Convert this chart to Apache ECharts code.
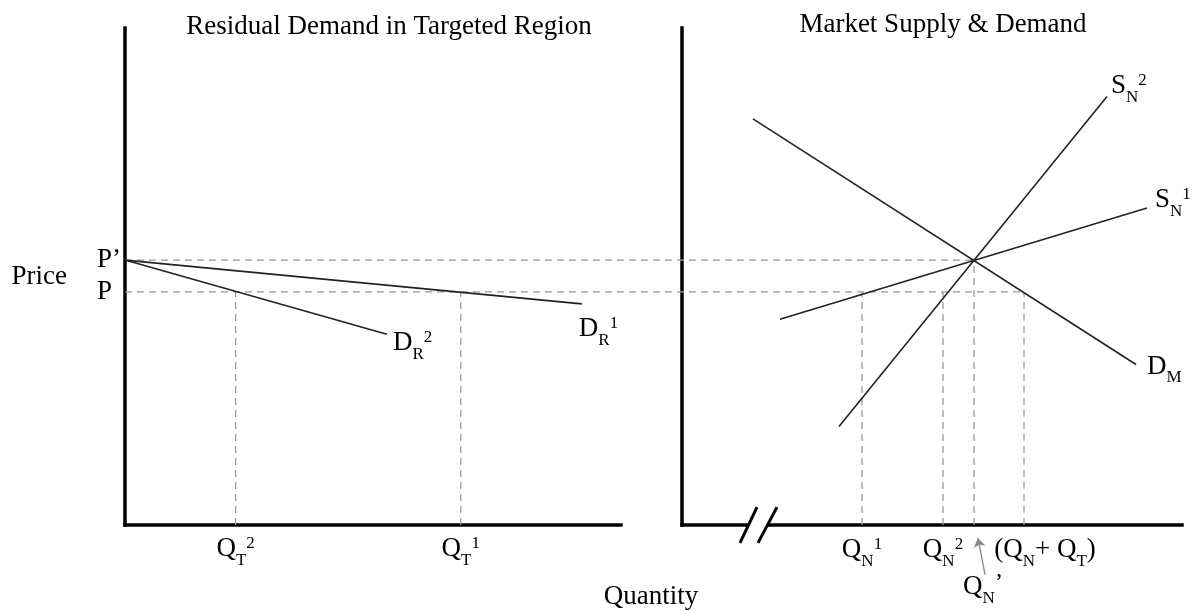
<!DOCTYPE html>
<html><head><meta charset="utf-8">
<script src="https://cdn.jsdelivr.net/npm/echarts@6/dist/echarts.min.js"></script>
<style>html,body{margin:0;padding:0;background:#fff}#chart{width:1192px;height:611px}</style>
</head><body><div id="chart"></div>
<script>
// ---- data (diagram units: quantity 0..100, price 0..100) ----
const priceValues = [46.9, 53.3];           // P, P'
const priceLabels = ['P', 'P’'];
// left panel: residual demand in targeted region
const demandR1 = [[0, 53.3], [92.1, 44.5]];
const demandR2 = [[0, 53.3], [52.8, 38.4]];
const qtValues = [22.3, 67.7];              // Q_T^2, Q_T^1
const qtLabels = [['Q', 'T', '2'], ['Q', 'T', '1']];
// right panel: market supply & demand
const demandM = [[14.2, 81.7], [90.8, 32.3]];
const supplyN1 = [[19.6, 41.4], [93.0, 63.8]];
const supplyN2 = [[31.4, 19.8], [85.0, 86.2]];
const qnValues = [36.0, 52.2];              // Q_N^1, Q_N^2
const qnLabels = [['Q', 'N', '1'], ['Q', 'N', '2']];
const qnTotal = [68.4];                     // (Q_N + Q_T)
const qnPrime = [58.4];                     // Q_N'

// ---- layout / style ----
const F = '"Liberation Serif","Times New Roman",serif';
const W = 1192;
const G0 = {left: 125, top: 28, right: W - 621, bottom: 86};
const G1 = {left: 682, top: 28, right: 10, bottom: 86};
const G2 = {left: G0.left, top: G1.top, right: G1.right, bottom: G1.bottom}; // spans both panels (shared price)
const G1W = W - G1.left - G1.right;
const G2W = W - G2.left - G2.right;
// map a market-panel quantity onto the full-width overlay grid
const toSpan = q => ((G1.left - G2.left) + q / 100 * G1W) / G2W * 100;

const base = {fontFamily: F, color: '#000'};
const rich = {
  m:  Object.assign({fontSize: 27, lineHeight: 40, verticalAlign: 'middle'}, base),
  ms: Object.assign({fontSize: 27, lineHeight: 40, verticalAlign: 'middle', padding: [0, 0, 0, 42]}, base),
  mq: Object.assign({fontSize: 27, lineHeight: 40, verticalAlign: 'middle', padding: [0, 0, 0, 18]}, base),
  sub: Object.assign({fontSize: 17, verticalAlign: 'bottom'}, base),
  sup: Object.assign({fontSize: 17, verticalAlign: 'top', padding: [6, 0, 0, 0]}, base),
  apo: Object.assign({fontSize: 24, verticalAlign: 'top', padding: [4, 0, 0, 0]}, base)
};
function sym(main, sub, sup, first) {
  return '{' + (first || 'm') + '|' + main + '}{sub|' + sub + '}' + (sup ? '{sup|' + sup + '}' : '');
}
function pick(vals, v) {
  let best = 0;
  vals.forEach((x, i) => { if (Math.abs(x - v) < Math.abs(vals[best] - v)) best = i; });
  return best;
}

const axisLineStyle = {show: true, lineStyle: {color: '#000', width: 3.5, cap: 'square'}};
const solid = {color: '#222', width: 1.6};
const dashed = {color: '#9a9a9a', width: 1.3, type: [7, 5]};
const hidden = {show: false};

function line(data, xi, yi, style, extra) {
  return Object.assign({type: 'line', data: data, xAxisIndex: xi, yAxisIndex: yi, symbol: 'none',
    showSymbol: false, lineStyle: style, silent: true, clip: false, z: 3}, extra || {});
}
function endLabel(text, distance, offset) {
  return {endLabel: {show: true, formatter: () => text, distance: distance, offset: offset, rich: rich, lineHeight: 40}};
}
function labelAxis(values, margin, formatter, showLine) {
  return {gridIndex: 1, type: 'value', min: 0, max: 100, position: 'bottom',
    axisLine: showLine ? axisLineStyle : hidden, axisTick: hidden, splitLine: hidden,
    axisLabel: {customValues: values, margin: margin, lineHeight: 40, rich: rich, hideOverlap: false, formatter: formatter}};
}

const series = [];
// left panel guides
qtValues.forEach(q => series.push(line([[q, 0], [q, priceValues[0]]], 0, 0, dashed, {z: 2})));
// right panel guides
qnValues.concat(qnTotal).forEach(q => series.push(line([[q, 0], [q, priceValues[0]]], 1, 1, dashed, {z: 2})));
series.push(line([[qnPrime[0], 0], [qnPrime[0], priceValues[1]]], 1, 1, dashed, {z: 2}));
// price guides spanning both panels (overlay grid)
series.push(line([[0, priceValues[1]], [toSpan(qnPrime[0]), priceValues[1]]], 4, 2, dashed, {z: 2}));
series.push(line([[0, priceValues[0]], [toSpan(qnTotal[0]), priceValues[0]]], 4, 2, dashed, {z: 2}));
// curves
series.push(line(demandR1, 0, 0, solid, endLabel(sym('D', 'R', '1'), 0, [-3, 25])));
series.push(line(demandR2, 0, 0, solid, endLabel(sym('D', 'R', '2'), 6, [0, 9])));
series.push(line(demandM, 1, 1, solid, endLabel(sym('D', 'M', ''), 11, [0, 2])));
series.push(line(supplyN1, 1, 1, solid, endLabel(sym('S', 'N', '1'), 8, [0, -8])));
series.push(line(supplyN2, 1, 1, solid, endLabel(sym('S', 'N', '2'), 4, [0, -11])));
// axis break mark on the market quantity axis
series.push(line([[13.2, 0], [17.2, 0]], 1, 1, {color: '#fff', width: 6}, {z: 5}));
series.push(line([[11.6, -3.6], [15.0, 3.6]], 1, 1, {color: '#000', width: 3}, {z: 6}));
series.push(line([[15.2, -3.6], [19.0, 3.6]], 1, 1, {color: '#000', width: 3}, {z: 6}));
// arrow pointing at Q_N'
series.push({type: 'lines', coordinateSystem: 'cartesian2d', xAxisIndex: 1, yAxisIndex: 1, clip: false,
  symbol: ['none', 'arrow'], symbolSize: 9, silent: true, z: 6,
  lineStyle: {color: '#888', width: 1.3, opacity: 1},
  data: [{coords: [[qnPrime[0] + 2.2, -10], [qnPrime[0] + 0.8, -2.6]]}]});

const option = {
  animation: false,
  backgroundColor: '#fff',
  title: [
    {text: 'Residual Demand in Targeted Region', left: 389, top: 27, textAlign: 'center', textVerticalAlign: 'middle', padding: 0,
      textStyle: {fontFamily: F, fontSize: 27, fontWeight: 'normal', color: '#000'}},
    {text: 'Market Supply & Demand', left: 943, top: 25, textAlign: 'center', textVerticalAlign: 'middle', padding: 0,
      textStyle: {fontFamily: F, fontSize: 27, fontWeight: 'normal', color: '#000'}},
    {text: 'Quantity', left: 651, top: 597, textAlign: 'center', textVerticalAlign: 'middle', padding: 0,
      textStyle: {fontFamily: F, fontSize: 27, fontWeight: 'normal', color: '#000'}}
  ],
  grid: [G0, G1, G2],
  xAxis: [
    {gridIndex: 0, type: 'value', min: 0, max: 100, axisLine: axisLineStyle, axisTick: hidden, splitLine: hidden,
      axisLabel: {customValues: qtValues, margin: 4, lineHeight: 40, rich: rich, hideOverlap: false,
        formatter: v => { const t = qtLabels[pick(qtValues, v)]; return sym(t[0], t[1], t[2]); }}},
    labelAxis(qnValues, 5, v => { const t = qnLabels[pick(qnValues, v)]; return sym(t[0], t[1], t[2]); }, true),
    labelAxis(qnPrime, 42, () => '{mq|Q}{sub|N}{apo|’}', false),
    labelAxis(qnTotal, 5, () => '{ms|(Q}{sub|N}{m|+ Q}{sub|T}{m|)}', false),
    {gridIndex: 2, type: 'value', min: 0, max: 100, show: false}
  ],
  yAxis: [
    {gridIndex: 0, type: 'value', min: 0, max: 100, axisLine: axisLineStyle, axisTick: hidden, splitLine: hidden,
      name: 'Price', nameLocation: 'middle', nameRotate: 0, nameGap: 58,
      nameTextStyle: {fontFamily: F, fontSize: 27, color: '#000'},
      axisLabel: {customValues: priceValues, margin: 28, align: 'left', hideOverlap: false,
        fontFamily: F, fontSize: 27, color: '#000',
        formatter: v => priceLabels[pick(priceValues, v)]}},
    {gridIndex: 1, type: 'value', min: 0, max: 100, axisLine: axisLineStyle, axisTick: hidden, splitLine: hidden,
      axisLabel: hidden},
    {gridIndex: 2, type: 'value', min: 0, max: 100, show: false}
  ],
  series: series
};
const chart = echarts.init(document.getElementById('chart'), null, {renderer: 'canvas'});
chart.setOption(option);
</script></body></html>
